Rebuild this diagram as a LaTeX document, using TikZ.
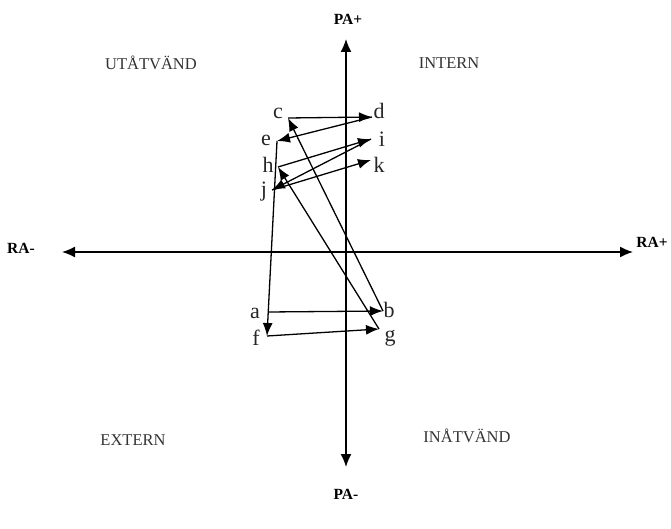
\documentclass[tikz,border=0pt]{standalone}
\usepackage{fontspec}
\setmainfont{Liberation Serif}
\usetikzlibrary{arrows.meta}
\begin{document}
\begin{tikzpicture}[x=1pt,y=-1pt,
  axis/.style={line width=1.4pt,{Latex[length=13pt,width=11pt]}-{Latex[length=13pt,width=11pt]}},
  conn/.style={line width=1.3pt,-{Latex[length=13pt,width=10pt]}},
  axlab/.style={font=\fontsize{15.5}{17}\selectfont\bfseries},
  quad/.style={font=\fontsize{16.5}{18}\selectfont,text=black!80},
  pt/.style={font=\fontsize{22}{24}\selectfont,inner sep=0pt,text=black!85}]
\useasboundingbox (0,0) rectangle (671,529);
% axes
\coordinate (top) at (346,39);
\coordinate (bot) at (346,467);
\coordinate (lft) at (62,252);
\coordinate (rgt) at (633,252);
\draw[axis] (lft) -- (rgt);
\draw[axis] (bot) -- (top);
\node[axlab] (pap) at (348,19) {PA+};
\node[axlab] (pam) at (346,494) {PA-};
\node[axlab] (ram) at (21,248) {RA-};
\node[axlab] (rap) at (652,242) {RA+};
% quadrant labels
\node[quad] (q1) at (151,63) {UTÅTVÄND};
\node[quad] (q2) at (449,63) {INTERN};
\node[quad] (q3) at (133,440) {EXTERN};
\node[quad] (q4) at (467,436) {INÅTVÄND};
% points
\coordinate (a) at (268,312);
\coordinate (b) at (383,311);
\coordinate (c) at (288,118);
\coordinate (d) at (372,117);
\coordinate (e) at (277,141);
\coordinate (f) at (267,336);
\coordinate (g) at (379,329);
\coordinate (h) at (278,167);
\coordinate (i) at (371,139);
\coordinate (j) at (272,190);
\coordinate (k) at (371,160);
% labels
\node[pt] (la) at (255,313) {a};
\node[pt] (lb) at (389,310) {b};
\node[pt] (lc) at (278,113) {c};
\node[pt] (ld) at (379,111) {d};
\node[pt] (le) at (266,140) {e};
\node[pt] (lf) at (256,338) {f};
\node[pt] (lg) at (390,338) {g};
\node[pt] (lh) at (268,165) {h};
\node[pt] (li) at (382,139) {i};
\node[pt] (lj) at (264,192) {j};
\node[pt] (lk) at (379,165) {k};
% connectors
\draw[conn] (a) -- (b);
\draw[conn] (b) -- (c);
\draw[conn] (c) -- (d);
\draw[conn] (d) -- (e);
\draw[conn] (e) -- (f);
\draw[conn] (f) -- (g);
\draw[conn] (g) -- (h);
\draw[conn] (h) -- (i);
\draw[conn] (i) -- (j);
\draw[conn] (j) -- (k);
\end{tikzpicture}
\end{document}
